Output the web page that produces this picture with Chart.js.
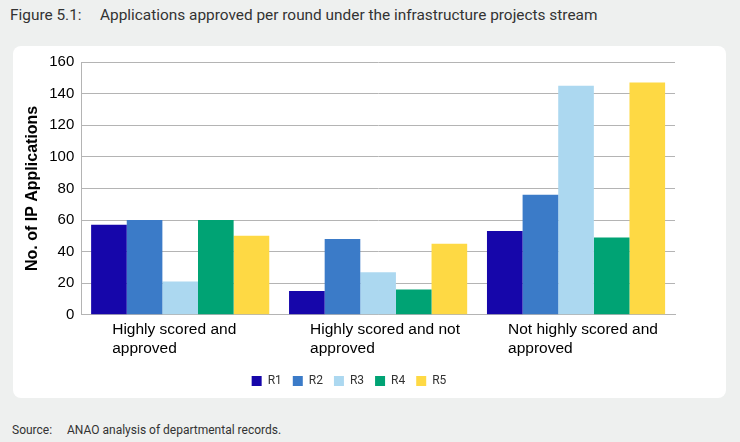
<!DOCTYPE html>
<html>
<head>
<meta charset="utf-8">
<script src="https://cdn.jsdelivr.net/npm/chart.js@4.4.1/dist/chart.umd.min.js"></script>
<style>
    html, body {
        margin: 0;
        padding: 0;
        width: 740px;
        height: 442px;
        background: #eef0ef;
        overflow: hidden;
    }
    .title {
        position: absolute;
        left: 10px;
        top: 6px;
        font-family: Roboto, sans-serif;
        font-size: 15.4px;
        color: #333;
        white-space: nowrap;
    }
    .card {
        position: absolute;
        left: 13px;
        top: 46px;
        width: 713px;
        height: 352px;
        background: #fff;
        border-radius: 8px;
    }
    .source {
        position: absolute;
        left: 12px;
        top: 423px;
        font-family: Roboto, sans-serif;
        font-size: 12px;
        color: #333;
        white-space: nowrap;
    }
    .lead { display: inline-block; }
    .title .lead { width: 90px; }
    .source .lead { width: 55px; }
</style>
</head>
<body>
<div class="title"><span class="lead">Figure 5.1:</span>Applications approved per round under the infrastructure projects stream</div>
<div class="card"><canvas id="chart" width="713" height="352"></canvas></div>
<div class="source"><span class="lead">Source:</span>ANAO analysis of departmental records.</div>
<script>
'use strict';

const categories = [
    ['Highly scored and', 'approved'],
    ['Highly scored and not', 'approved'],
    ['Not highly scored and', 'approved']
];
const roundNames = ['R1', 'R2', 'R3', 'R4', 'R5'];
const r1 = [57, 15, 53];
const r2 = [60, 48, 76];
const r3 = [21, 27, 145];
const r4 = [60, 16, 49];
const r5 = [50, 45, 147];
const colours = ['#1606aa', '#3b7bc8', '#acd8f0', '#00a374', '#fed944'];

let seriesValues = [r1, r2, r3, r4, r5];
let datasets = [];

for (let i = 0; i < roundNames.length; i++) {
    datasets.push({
        label: roundNames[i],
        data: seriesValues[i],
        backgroundColor: colours[i],
        borderWidth: 0,
        categoryPercentage: 0.9,
        barPercentage: 1.0
    });
}

const fontFamily = 'Liberation Sans, Arial, sans-serif';

new Chart(document.getElementById('chart'), {
    type: 'bar',
    data: {
        labels: categories,
        datasets: datasets
    },
    options: {
        responsive: false,
        animation: false,
        layout: {
            padding: {left: 10, right: 51, top: 8, bottom: 1}
        },
        scales: {
            x: {
                grid: {display: false, drawTicks: false},
                border: {color: '#b4b4b4'},
                ticks: {
                    color: '#000',
                    font: {family: fontFamily, size: 15.5, lineHeight: 1.2},
                    align: 'start',
                    labelOffset: -68,
                    maxRotation: 0,
                    padding: 6
                },
                // labels are shifted left by hand, so drop the overhang padding
                afterFit: function(scale) {
                    scale.paddingLeft  = 0;
                    scale.paddingRight = 0;
                }
            },
            y: {
                min: 0,
                max: 160,
                grid: {color: '#b4b4b4', drawTicks: false},
                border: {color: '#b4b4b4'},
                ticks: {
                    stepSize: 20,
                    color: '#000',
                    font: {family: fontFamily, size: 15},
                    padding: 7
                },
                title: {
                    display: true,
                    text: 'No. of IP Applications',
                    color: '#000',
                    font: {family: fontFamily, size: 16, weight: 'bold'},
                    padding: {top: 0, bottom: 0}
                }
            }
        },
        plugins: {
            legend: {
                position: 'bottom',
                labels: {
                    boxWidth: 10,
                    boxHeight: 10,
                    padding: 11,
                    color: '#333',
                    font: {family: 'Roboto, sans-serif', size: 12}
                }
            },
            tooltip: {enabled: false}
        }
    }
});
</script>
</body>
</html>
